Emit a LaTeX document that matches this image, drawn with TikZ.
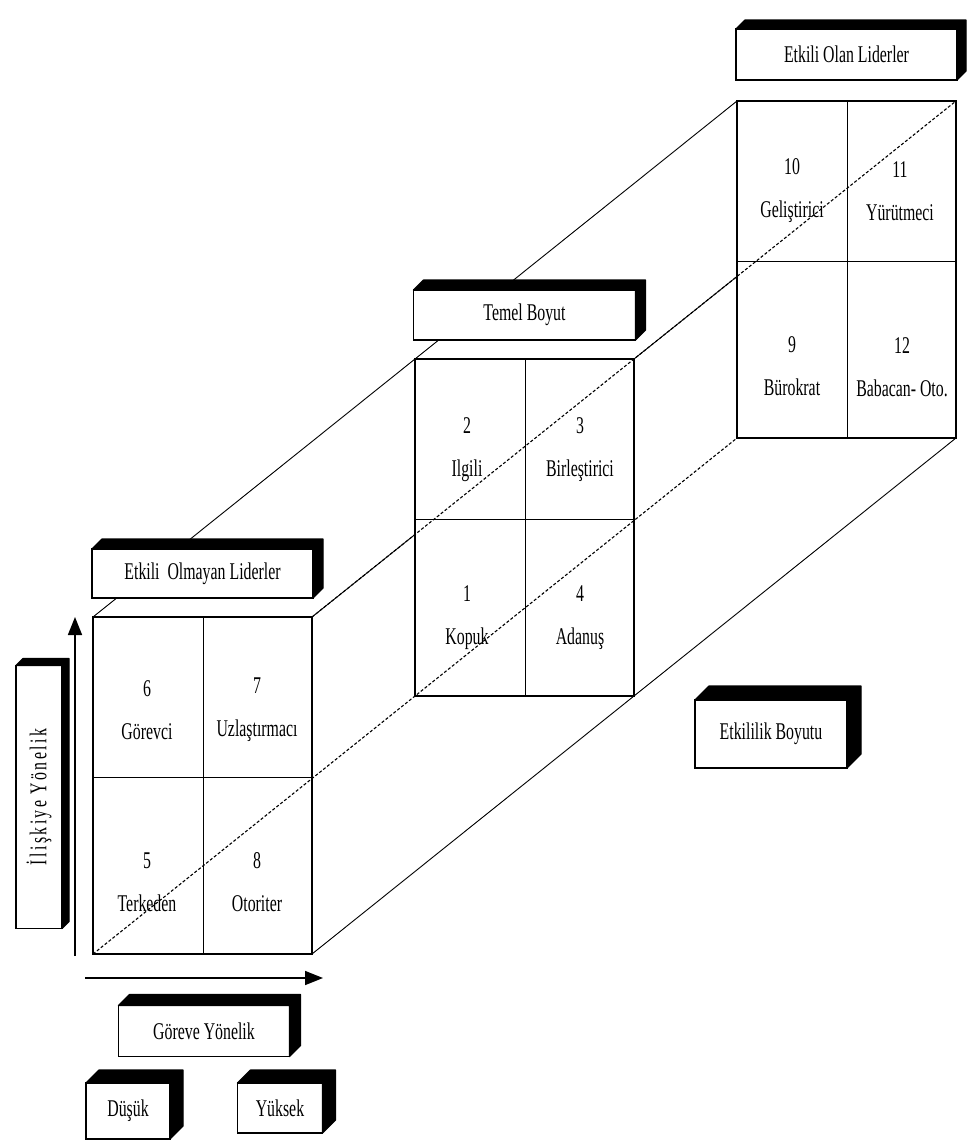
\documentclass[tikz,border=0pt]{standalone}
\usepackage{fontspec}
\newfontfamily\narrowserif[FakeStretch=0.66]{Liberation Serif}
\newfontfamily\spacedserif[FakeStretch=0.66, LetterSpace=10]{Liberation Serif}
\usepackage{graphicx}
\usepackage{tikz}
\usetikzlibrary{arrows.meta, positioning, calc, backgrounds}

\begin{document}
\begin{tikzpicture}[x=1pt, y=-1pt, font=\narrowserif\fontsize{24}{30}\selectfont]
\tikzstyle{face} = [rectangle, draw, fill=white, line width=1.3pt, minimum width=219pt, minimum height=337pt, inner sep=0pt, outer sep=0pt, anchor=north west]
\tikzstyle{tag} = [rectangle, draw, fill=white, line width=1.2pt, inner sep=0pt, outer sep=0pt]
\tikzstyle{cell} = [align=center, font=\narrowserif\fontsize{24}{43}\selectfont]
\tikzstyle{edge} = [line width=0.9pt]
\tikzstyle{hidden} = [line width=1.1pt, dash pattern=on 3pt off 2pt]
\tikzstyle{axis} = [line width=1.6pt, -{Triangle[length=18pt, width=14pt]}]

\useasboundingbox (0,0) rectangle (970,1146);

% the three faces
\node (front) [face] at (93,617) {};
\node (middle) [face] at (415,359) {};
\node (back) [face] at (737,101) {};

% long edges, behind the faces
\begin{scope}[on background layer]
\draw [edge] (front.north west) -- (back.north west);
\draw [edge] (front.north east) -- (back.north east);
\draw [edge] (front.south east) -- (back.south east);
\end{scope}
\draw [hidden] (front.north east) -- (back.north east);
\draw [hidden] (front.south west) -- (back.south west);

% split each face into four
\foreach \f in {front, middle, back} {
  \draw [edge] (\f.north west) ++(110,0) -- ++(0,337);
  \draw [edge] (\f.north west) ++(0,160) -- ++(219,0);
}

% cells
\node (c6) [cell] at ($(front.north west)+(54,93)$) {6\\Görevci};
\node (c7) [cell] at ($(front.north west)+(164,93)$) {7\\Uzlaştırmacı};
\node (c5) [cell] at ($(front.north west)+(54,265)$) {5\\Terkeden};
\node (c8) [cell] at ($(front.north west)+(164,265)$) {8\\Otoriter};
\node (c2) [cell] at ($(middle.north west)+(52,91)$) {2\\Ilgili};
\node (c3) [cell] at ($(middle.north west)+(165,91)$) {3\\Birleştirici};
\node (c1) [cell] at ($(middle.north west)+(52,259)$) {1\\Kopuk};
\node (c4) [cell] at ($(middle.north west)+(165,259)$) {4\\Adanuş};
\node (c10) [cell] at ($(back.north west)+(55,90)$) {10\\Geliştirici};
\node (c11) [cell] at ($(back.north west)+(163,90)$) {11\\Yürütmeci};
\node (c9) [cell] at ($(back.north west)+(55,265)$) {9\\Bürokrat};
\node (c12) [cell] at ($(back.north west)+(165,266)$) {12\\Babacan- Oto.};

% labels
\node (olmayan) [tag, above=19pt of front, minimum width=221pt, minimum height=49pt] {Etkili\ \ Olmayan Liderler};
\node (temel) [tag, above=19pt of middle, minimum width=222pt, minimum height=50pt] {Temel Boyut};
\node (olan) [tag, above=21pt of back, minimum width=221pt, minimum height=51pt] {Etkili Olan Liderler};
\node (iliski) [tag, minimum width=46pt, minimum height=263pt] at (39,797) {\rotatebox{90}{\spacedserif İlişkiye\ Yönelik}};
\node (gorev) [tag, minimum width=171pt, minimum height=51pt] at (204,1031) {Göreve Yönelik};
\node (dusuk) [tag, minimum width=84pt, minimum height=56pt] at (128,1111) {Düşük};
\node (yuksek) [tag, minimum width=85pt, minimum height=50pt] at (280,1108) {Yüksek};
\node (etkililik) [tag, minimum width=152pt, minimum height=68pt] at (771,734) {Etkililik Boyutu};

% black sides of the labels
\foreach \nm/\dep in {olan/9, temel/10, olmayan/10, iliski/7, gorev/11, dusuk/13, yuksek/13, etkililik/14}
  \filldraw [line width=1.2pt, line join=round] (\nm.north west) -- ($(\nm.north west)+(\dep,-\dep)$) -- ($(\nm.north east)+(\dep,-\dep)$) -- ($(\nm.south east)+(\dep,-\dep)$) -- (\nm.south east) -- (\nm.north east) -- cycle;

% axes
\coordinate (vbase) at (75,956);
\coordinate (vtip) at (75,617);
\coordinate (hbase) at (85,978);
\coordinate (htip) at (323,978);
\draw [axis] (vbase) -- (vtip);
\draw [axis] (hbase) -- (htip);
\end{tikzpicture}
\end{document}
